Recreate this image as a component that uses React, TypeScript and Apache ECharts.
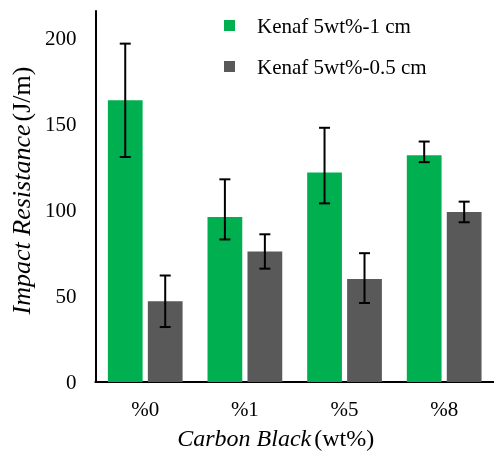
import React, { useEffect, useRef } from "react";
import * as echarts from "echarts";

const categories = ["%0", "%1", "%5", "%8"];
const seriesNames = ["Kenaf 5wt%-1 cm", "Kenaf 5wt%-0.5 cm"];
const green1cm = [164, 96, 122, 132];
const green1cmErrLow = [131, 83, 104, 128];
const green1cmErrHigh = [197, 118, 148, 140];
const gray05cm = [47, 76, 60, 99];
const gray05cmErrLow = [32, 66, 46, 93];
const gray05cmErrHigh = [62, 86, 75, 105];
const yTicks = [0, 50, 100, 150, 200];

const FONT = "Liberation Serif";

export default function App() {
  const ref = useRef<HTMLDivElement>(null);
  useEffect(() => {
    if (!ref.current) return;
    const chart = echarts.init(ref.current, null, { renderer: "svg" });
    const errData: any[] = [];
    categories.forEach((_, i) => {
      errData.push([i, green1cmErrLow[i], green1cmErrHigh[i], 0]);
      errData.push([i, gray05cmErrLow[i], gray05cmErrHigh[i], 1]);
    });
    const renderItem = (params: any, api: any) => {
      const ci = api.value(0);
      const lo = api.coord([ci, api.value(1)]);
      const hi = api.coord([ci, api.value(2)]);
      const band = api.size([1, 0])[0];
      const barW = (band * 0.75) / 2.15;
      const off = (barW * 1.15) / 2;
      const x = lo[0] + (api.value(3) === 0 ? -off : off);
      const cap = 5.5;
      const style = { stroke: "#000", lineWidth: 2 };
      return {
        type: "group",
        children: [
          { type: "line", shape: { x1: x, y1: hi[1], x2: x, y2: lo[1] }, style },
          { type: "line", shape: { x1: x - cap, y1: hi[1], x2: x + cap, y2: hi[1] }, style },
          { type: "line", shape: { x1: x - cap, y1: lo[1], x2: x + cap, y2: lo[1] }, style },
        ],
      };
    };
    const richX = {
      i: { fontFamily: FONT, fontSize: 24, fontStyle: "italic", color: "#000" },
      n: { fontFamily: FONT, fontSize: 24, color: "#000" },
    };
    const richY = {
      i: { fontFamily: FONT, fontSize: 26, fontStyle: "italic", color: "#000" },
      n: { fontFamily: FONT, fontSize: 26, color: "#000" },
    };
    chart.setOption({
      animation: false,
      textStyle: { fontFamily: FONT },
      grid: { left: 91, width: 406, top: 11, bottom: 66, containLabel: false },
      legend: {
        data: seriesNames,
        orient: "vertical",
        left: 219,
        top: 10,
        itemWidth: 11,
        itemHeight: 11,
        itemGap: 20,
        icon: "rect",
        textStyle: { fontFamily: FONT, fontSize: 21, color: "#000", padding: [4, 0, 0, 17] },
      },
      xAxis: {
        type: "category",
        data: categories,
        axisLine: { lineStyle: { color: "#000", width: 2 } },
        axisTick: { show: false },
        axisLabel: { fontFamily: FONT, fontSize: 21, color: "#000", margin: 16 },
        name: "{i|Carbon Black} {n|(wt%)}",
        nameLocation: "middle",
        nameGap: 44,
        nameTextStyle: { fontFamily: FONT, rich: richX, padding: [0, 38, 0, 0] },
      },
      yAxis: {
        type: "value",
        min: 0,
        max: 216,
        interval: 50,
        splitLine: { show: false },
        axisLine: { show: true, lineStyle: { color: "#000", width: 2 } },
        axisTick: { show: false },
        axisLabel: {
          fontFamily: FONT,
          fontSize: 21,
          color: "#000",
          margin: 19,
          formatter: (v: number) => (yTicks.includes(v) ? String(v) : ""),
        },
        name: "{i|Impact Resistance} {n|(J/m)}",
        nameLocation: "middle",
        nameGap: 58,
        nameTextStyle: { fontFamily: FONT, rich: richY, padding: [0, 0, 0, 12] },
      },
      series: [
        {
          name: seriesNames[0],
          type: "bar",
          data: green1cm,
          barGap: "15%",
          barCategoryGap: "25%",
          itemStyle: { color: "#00B050" },
        },
        {
          name: seriesNames[1],
          type: "bar",
          data: gray05cm,
          barGap: "15%",
          barCategoryGap: "25%",
          itemStyle: { color: "#595959" },
        },
        {
          type: "custom",
          renderItem,
          data: errData,
          encode: { x: 0, y: [1, 2] },
          z: 10,
        },
      ],
    });
    return () => chart.dispose();
  }, []);
  return <div ref={ref} style={{ position: "fixed", left: 0, top: 0, width: 494, height: 455 }} />;
}
